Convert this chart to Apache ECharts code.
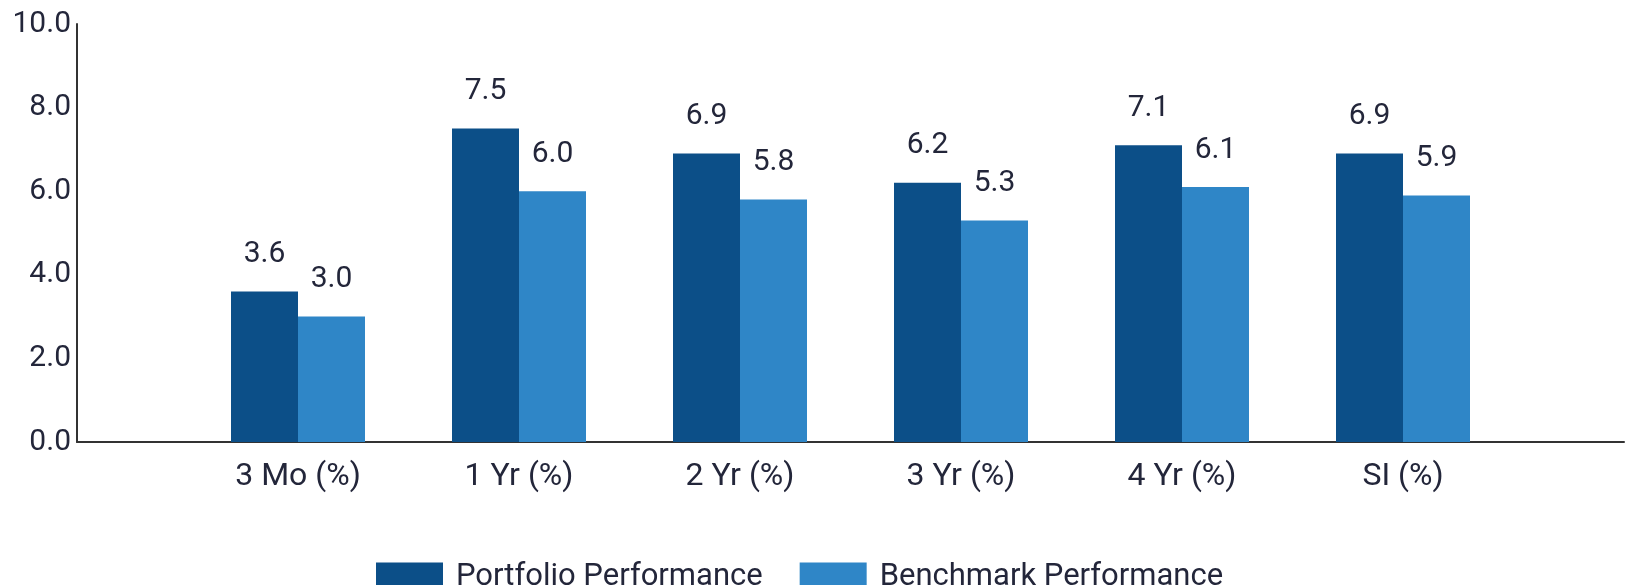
<!DOCTYPE html>
<html>
<head>
<meta charset="utf-8">
<script src="https://cdn.jsdelivr.net/npm/echarts@6/dist/echarts.min.js"></script>
<style>
  html, body { margin: 0; padding: 0; background: #ffffff; }
  #chart { width: 1627px; height: 585px; }
</style>
</head>
<body>
<div id="chart"></div>
<script>
// Return periods; blank slots at both ends pad the category axis
const categories = ['', '3 Mo (%)', '1 Yr (%)', '2 Yr (%)', '3 Yr (%)', '4 Yr (%)', 'SI (%)', ''];
const portfolio = ['-', 3.6, 7.5, 6.9, 6.2, 7.1, 6.9, '-'];
const benchmark = ['-', 3.0, 6.0, 5.8, 5.3, 6.1, 5.9, '-'];
const seriesNames = ['Portfolio Performance', 'Benchmark Performance'];
const yTicks = { min: 0, max: 10, interval: 2 };

const textColor = '#23263a';
const fontFamily = 'Roboto, "Noto Sans", sans-serif';

const chart = echarts.init(document.getElementById('chart'), null, { renderer: 'canvas' });

const valueLabel = {
  show: true,
  position: 'top',
  distance: 22,
  color: textColor,
  fontSize: 30,
  fontFamily: fontFamily,
  formatter: p => Number(p.value).toFixed(1)
};

chart.setOption({
  animation: false,
  backgroundColor: '#ffffff',
  grid: { left: 77, right: -9, top: 24, bottom: 143, containLabel: false },
  legend: {
    left: 371,
    top: 557,
    itemWidth: 67,
    itemHeight: 30,
    itemGap: 37,
    icon: 'rect',
    textStyle: { color: textColor, fontSize: 31, fontFamily: fontFamily, padding: [0, 0, 0, 8] },
    data: seriesNames
  },
  xAxis: {
    type: 'category',
    data: categories,
    boundaryGap: false,
    axisLine: { lineStyle: { color: '#333333', width: 2 } },
    axisTick: { show: false },
    axisLabel: { color: textColor, fontSize: 32, fontFamily: fontFamily, margin: 19, interval: 0 },
    splitLine: { show: false }
  },
  yAxis: {
    type: 'value',
    min: yTicks.min,
    max: yTicks.max,
    interval: yTicks.interval,
    axisLine: { show: true, lineStyle: { color: '#333333', width: 2 } },
    axisTick: { show: false },
    splitLine: { show: false },
    axisLabel: {
      color: textColor, fontSize: 30, fontFamily: fontFamily, margin: 6,
      formatter: v => v.toFixed(1)
    }
  },
  series: [
    {
      name: seriesNames[0],
      type: 'bar',
      data: portfolio,
      barWidth: 67,
      barGap: '0%',
      itemStyle: { color: '#0c4f88' },
      label: valueLabel
    },
    {
      name: seriesNames[1],
      type: 'bar',
      data: benchmark,
      barWidth: 67,
      barGap: '0%',
      itemStyle: { color: '#2f86c7' },
      label: valueLabel
    }
  ]
});
</script>
</body>
</html>
